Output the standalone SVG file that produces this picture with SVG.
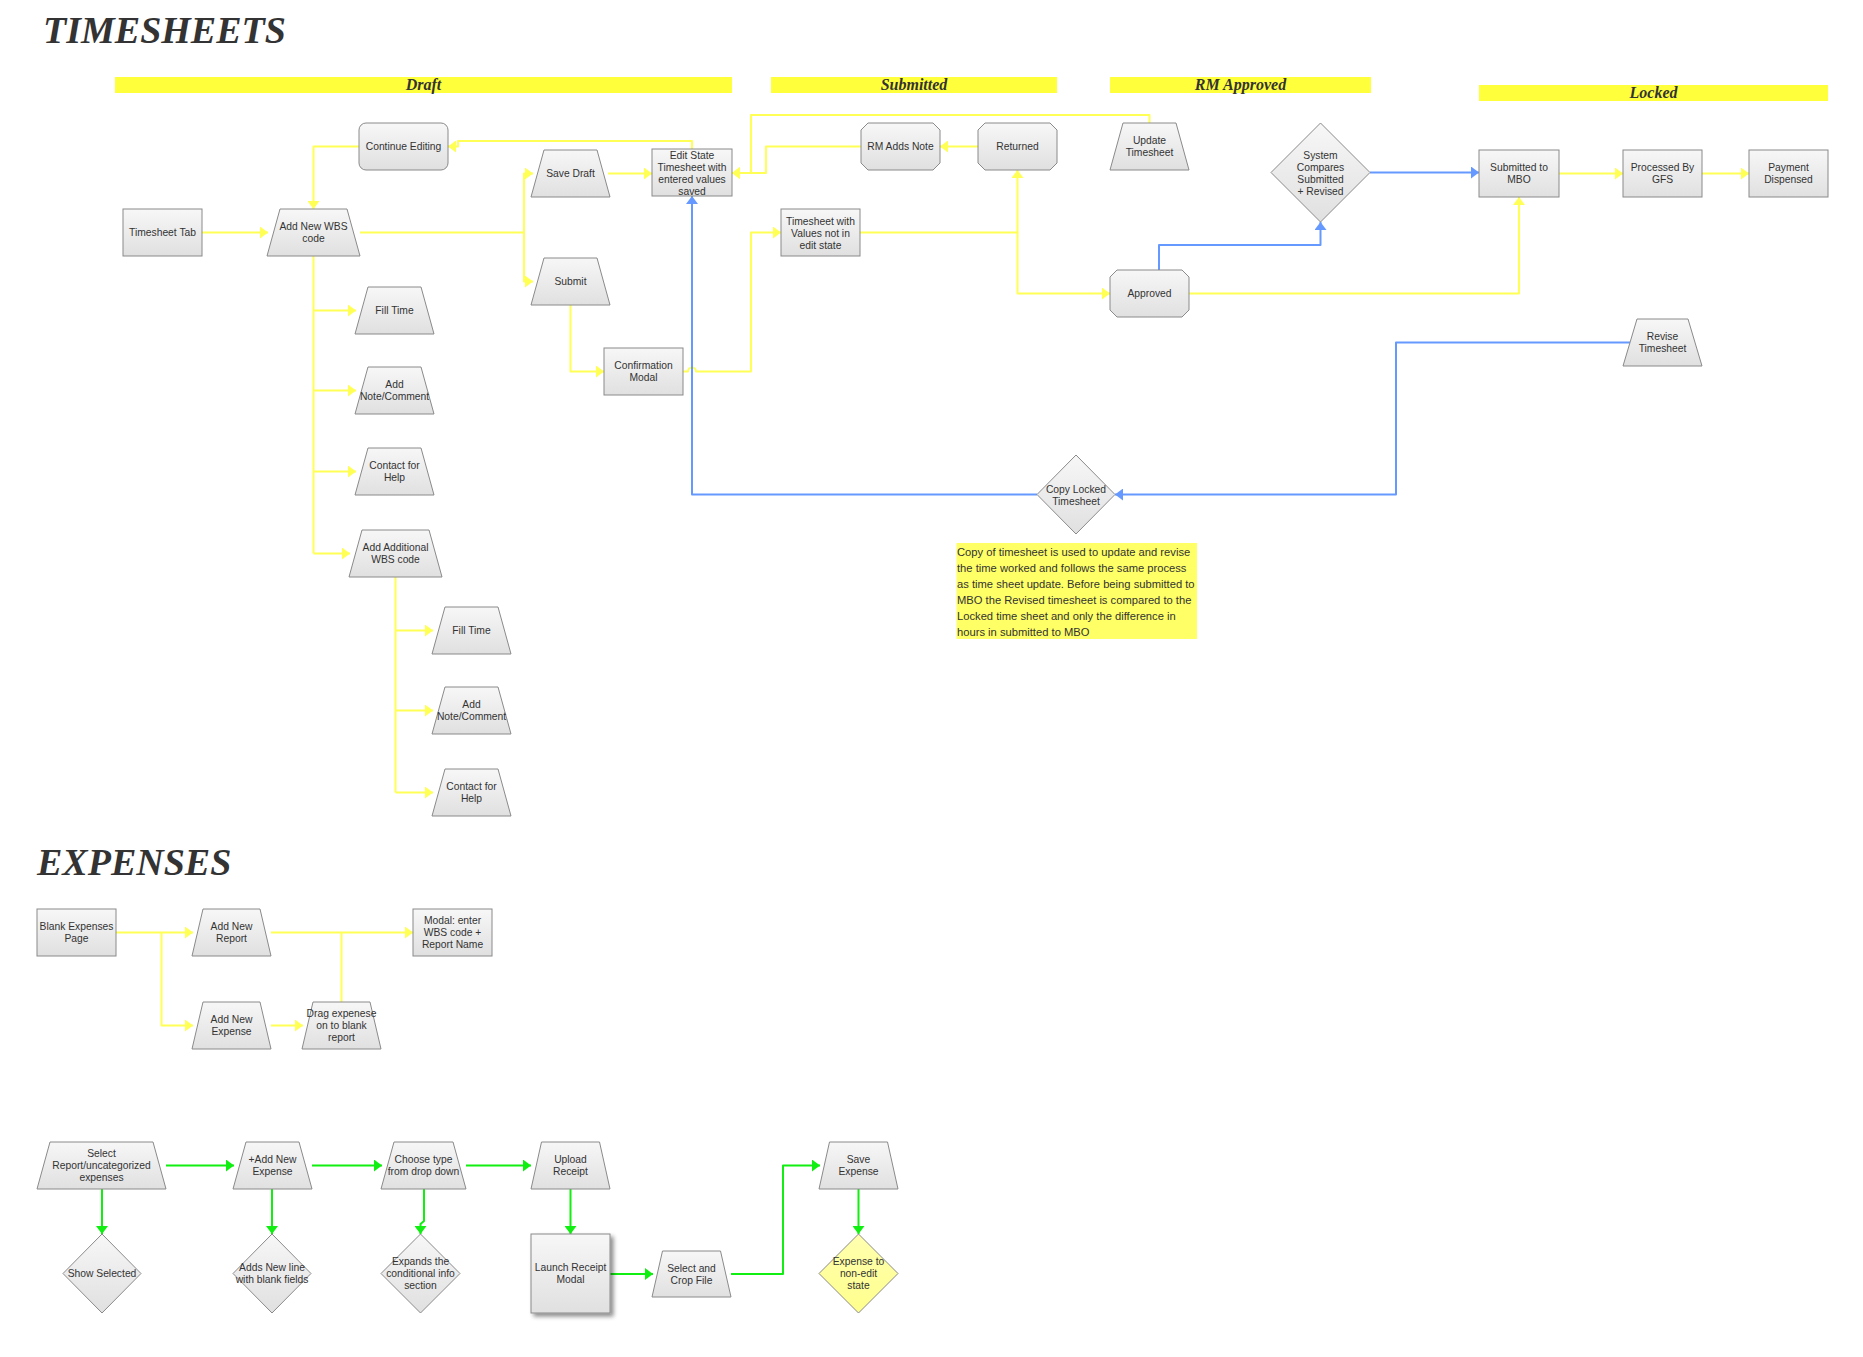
<svg xmlns="http://www.w3.org/2000/svg" width="1863" height="1357" viewBox="0 0 1863 1357">
<style>
.n{fill:url(#g);stroke:#8a8a8a;stroke-width:1}
.t{font-family:"Liberation Sans",Arial,sans-serif;font-size:10.3px;fill:#333;text-anchor:middle}
.h{font-family:"Liberation Serif","Times New Roman",serif;font-weight:bold;font-style:italic;fill:#333}
.bar{fill:#ffff3c}
.bl{font-family:"Liberation Serif","Times New Roman",serif;font-weight:bold;font-style:italic;font-size:16px;fill:#333;text-anchor:middle}
.cy{fill:none;stroke:#ffff55;stroke-width:2;stroke-linejoin:round;marker-end:url(#ay)}
.cy0{fill:none;stroke:#ffff55;stroke-width:2;stroke-linejoin:round}
.cb{fill:none;stroke:#6699ff;stroke-width:2;stroke-linejoin:round;marker-end:url(#ab)}
.cg{fill:none;stroke:#11ee11;stroke-width:2;stroke-linejoin:round;marker-end:url(#ag)}
.note{font-family:"Liberation Sans",Arial,sans-serif;font-size:11.2px;fill:#333}
</style>
<defs>
<linearGradient id="g" x1="0" y1="0" x2="0" y2="1"><stop offset="0" stop-color="#f7f7f7"/><stop offset="1" stop-color="#e0e0e0"/></linearGradient>
<linearGradient id="gy" x1="0" y1="0" x2="0" y2="1"><stop offset="0" stop-color="#ffffb0"/><stop offset="1" stop-color="#ffff8c"/></linearGradient>
<marker id="ay" viewBox="0 0 8 12" refX="8" refY="6" markerWidth="8" markerHeight="12" markerUnits="userSpaceOnUse" orient="auto"><path d="M0,0 L8,6 L0,12 Z" fill="#ffff55"/></marker>
<marker id="ab" viewBox="0 0 8 12" refX="8" refY="6" markerWidth="8" markerHeight="12" markerUnits="userSpaceOnUse" orient="auto"><path d="M0,0 L8,6 L0,12 Z" fill="#6699ff"/></marker>
<marker id="ag" viewBox="0 0 8 12" refX="8" refY="6" markerWidth="8" markerHeight="12" markerUnits="userSpaceOnUse" orient="auto"><path d="M0,0 L8,6 L0,12 Z" fill="#11ee11"/></marker>
<filter id="sh" x="-20%" y="-20%" width="150%" height="150%"><feDropShadow dx="3" dy="3" stdDeviation="2" flood-color="#000" flood-opacity="0.45"/></filter>
</defs>
<rect width="1863" height="1357" fill="#fff"/>

<text class="h" x="43" y="43" font-size="38">TIMESHEETS</text>
<text class="h" x="37" y="875" font-size="38">EXPENSES</text>

<g id="lanes">
<rect class="bar" x="115" y="77" width="617" height="16"/><text class="bl" x="423.5" y="89.5">Draft</text>
<rect class="bar" x="771" y="77" width="286" height="16"/><text class="bl" x="914" y="89.5">Submitted</text>
<rect class="bar" x="1110" y="77" width="261" height="16"/><text class="bl" x="1240.5" y="89.5">RM Approved</text>
<rect class="bar" x="1479" y="85" width="349" height="16"/><text class="bl" x="1653.5" y="97.5">Locked</text>
</g>

<g id="connectors">
<path class="cy" d="M202,232.5 H268"/>
<path class="cy" d="M360,232.5 H524 V173.5 H533"/>
<path class="cy" d="M524,232.5 V281.5 H533"/>
<path class="cy" d="M608,173.5 H652"/>
<path class="cy" d="M570.5,305 V371.5 H604"/>
<path class="cy" d="M683,371.5 H688 A4,4 0 0 1 696,371.5 H751 V232.5 H781"/>
<path class="cy" d="M692,149 V141 H458 V146.5 H448"/>
<path class="cy" d="M359,146.5 H313.5 V209"/>
<path class="cy0" d="M313.5,256 V553.5"/>
<path class="cy" d="M313.5,310.5 H356"/>
<path class="cy" d="M313.5,390.5 H356"/>
<path class="cy" d="M313.5,471.5 H356"/>
<path class="cy" d="M313.5,553.5 H350"/>
<path class="cy0" d="M395.5,577 V792.5"/>
<path class="cy" d="M395.5,630.5 H433"/>
<path class="cy" d="M395.5,710.5 H433"/>
<path class="cy" d="M395.5,792.5 H433"/>
<path class="cy" d="M978,146.5 H940"/>
<path class="cy" d="M861,146.5 H766 V173 H732"/>
<path class="cy" d="M1149.5,123 V115 H751 V173 H732"/>
<path class="cy" d="M860,232.5 H1017.5 V170"/>
<path class="cy" d="M1017.5,232.5 V293.5 H1110"/>
<path class="cy" d="M1189,293.5 H1519 V197"/>
<path class="cy" d="M1559,173.5 H1623"/>
<path class="cy" d="M1702,173.5 H1749"/>
<path class="cb" d="M1370,172.5 H1479"/>
<path class="cb" d="M1159,270 V245 H1320.5 V222"/>
<path class="cb" d="M1630,342.5 H1396 V494.5 H1115"/>
<path class="cb" d="M1037,494.5 H692 V196"/>
<path class="cy" d="M116,932.5 H193"/>
<path class="cy" d="M161.5,932.5 V1025.5 H193"/>
<path class="cy" d="M271,932.5 H413"/>
<path class="cy0" d="M341.5,1002 V932.5"/>
<path class="cy" d="M271,1025.5 H303"/>
<path class="cg" d="M166,1165.5 H234"/>
<path class="cg" d="M312,1165.5 H382"/>
<path class="cg" d="M466,1165.5 H531"/>
<path class="cg" d="M102,1189 V1234"/>
<path class="cg" d="M272,1189 V1234"/>
<path class="cg" d="M424,1189 V1221 L420.5,1224 V1234"/>
<path class="cg" d="M570.5,1189 V1234"/>
<path class="cg" d="M610,1274 H653"/>
<path class="cg" d="M731,1274 H783 V1165.5 H820"/>
<path class="cg" d="M858.5,1189 V1234"/>
</g>

<g id="timesheet-tab"><rect class="n" x="123" y="209" width="79" height="47"/><text class="t" x="162.5" y="236.2">Timesheet Tab</text></g>
<g id="add-new-wbs"><polygon class="n" points="280,209 347,209 360,256 267,256"/><text class="t" x="313.5" y="230.2">Add New WBS</text><text class="t" x="313.5" y="242.2">code</text></g>
<g id="continue-editing"><rect class="n" x="359" y="123" width="89" height="47" rx="7"/><text class="t" x="403.5" y="150.2">Continue Editing</text></g>
<g id="save-draft"><polygon class="n" points="544,150 597,150 610,197 531,197"/><text class="t" x="570.5" y="177.2">Save Draft</text></g>
<g id="submit"><polygon class="n" points="544,258 597,258 610,305 531,305"/><text class="t" x="570.5" y="285.2">Submit</text></g>
<g id="confirmation-modal"><rect class="n" x="604" y="348" width="79" height="47"/><text class="t" x="643.5" y="369.2">Confirmation</text><text class="t" x="643.5" y="381.2">Modal</text></g>
<g id="edit-state"><rect class="n" x="652" y="149" width="80" height="47"/><text class="t" x="692" y="159">Edit State</text><text class="t" x="692" y="171">Timesheet with</text><text class="t" x="692" y="183">entered values</text><text class="t" x="692" y="195">saved</text></g>
<g id="timesheet-values"><rect class="n" x="781" y="209" width="79" height="47"/><text class="t" x="820.5" y="225">Timesheet with</text><text class="t" x="820.5" y="237">Values not in</text><text class="t" x="820.5" y="249">edit state</text></g>
<g id="rm-adds-note"><polygon class="n" points="868,123 933,123 940,130 940,163 933,170 868,170 861,163 861,130"/><text class="t" x="900.5" y="150.2">RM Adds Note</text></g>
<g id="returned"><polygon class="n" points="985,123 1050,123 1057,130 1057,163 1050,170 985,170 978,163 978,130"/><text class="t" x="1017.5" y="150.2">Returned</text></g>
<g id="update-timesheet"><polygon class="n" points="1123,123 1176,123 1189,170 1110,170"/><text class="t" x="1149.5" y="144.2">Update</text><text class="t" x="1149.5" y="156.2">Timesheet</text></g>
<g id="approved"><polygon class="n" points="1117,270 1182,270 1189,277 1189,310 1182,317 1117,317 1110,310 1110,277"/><text class="t" x="1149.5" y="297.2">Approved</text></g>
<g id="system-compares"><polygon class="n" points="1320.5,123 1370,172.5 1320.5,222 1271,172.5"/><text class="t" x="1320.5" y="159">System</text><text class="t" x="1320.5" y="171">Compares</text><text class="t" x="1320.5" y="183">Submitted</text><text class="t" x="1320.5" y="195">+ Revised</text></g>
<g id="submitted-mbo"><rect class="n" x="1479" y="150" width="80" height="47"/><text class="t" x="1519" y="171.2">Submitted to</text><text class="t" x="1519" y="183.2">MBO</text></g>
<g id="processed-gfs"><rect class="n" x="1623" y="150" width="79" height="47"/><text class="t" x="1662.5" y="171.2">Processed By</text><text class="t" x="1662.5" y="183.2">GFS</text></g>
<g id="payment-dispensed"><rect class="n" x="1749" y="150" width="79" height="47"/><text class="t" x="1788.5" y="171.2">Payment</text><text class="t" x="1788.5" y="183.2">Dispensed</text></g>
<g id="revise-timesheet"><polygon class="n" points="1637,319 1688,319 1702,366 1623,366"/><text class="t" x="1662.5" y="340.2">Revise</text><text class="t" x="1662.5" y="352.2">Timesheet</text></g>
<g id="copy-locked"><polygon class="n" points="1076,455 1115,494.5 1076,534 1037,494.5"/><text class="t" x="1076" y="493">Copy Locked</text><text class="t" x="1076" y="505">Timesheet</text></g>
<g id="note">
<rect x="956.5" y="543" width="240.5" height="96" fill="#ffff66"/>
<text class="note" x="957" y="555.5">Copy of timesheet is used to update and revise</text>
<text class="note" x="957" y="571.5">the time worked and follows the same process</text>
<text class="note" x="957" y="587.5">as time sheet update. Before being submitted to</text>
<text class="note" x="957" y="603.5">MBO the Revised timesheet is compared to the</text>
<text class="note" x="957" y="619.5">Locked time sheet and only the difference in</text>
<text class="note" x="957" y="635.5">hours in submitted to MBO</text>
</g>
<g id="fill-time-1"><polygon class="n" points="368,287 421,287 434,334 355,334"/><text class="t" x="394.5" y="314.2">Fill Time</text></g>
<g id="add-note-1"><polygon class="n" points="368,367 421,367 434,414 355,414"/><text class="t" x="394.5" y="388.2">Add</text><text class="t" x="394.5" y="400.2">Note/Comment</text></g>
<g id="contact-help-1"><polygon class="n" points="368,448 421,448 434,495 355,495"/><text class="t" x="394.5" y="469.2">Contact for</text><text class="t" x="394.5" y="481.2">Help</text></g>
<g id="add-additional-wbs"><polygon class="n" points="362,530 429,530 442,577 349,577"/><text class="t" x="395.5" y="551.2">Add Additional</text><text class="t" x="395.5" y="563.2">WBS code</text></g>
<g id="fill-time-2"><polygon class="n" points="445,607 498,607 511,654 432,654"/><text class="t" x="471.5" y="634.2">Fill Time</text></g>
<g id="add-note-2"><polygon class="n" points="445,687 498,687 511,734 432,734"/><text class="t" x="471.5" y="708.2">Add</text><text class="t" x="471.5" y="720.2">Note/Comment</text></g>
<g id="contact-help-2"><polygon class="n" points="445,769 498,769 511,816 432,816"/><text class="t" x="471.5" y="790.2">Contact for</text><text class="t" x="471.5" y="802.2">Help</text></g>

<g id="blank-expenses"><rect class="n" x="37" y="909" width="79" height="47"/><text class="t" x="76.5" y="930.2">Blank Expenses</text><text class="t" x="76.5" y="942.2">Page</text></g>
<g id="add-new-report"><polygon class="n" points="203,909 260,909 271,956 192,956"/><text class="t" x="231.5" y="930.2">Add New</text><text class="t" x="231.5" y="942.2">Report</text></g>
<g id="modal-wbs"><rect class="n" x="413" y="909" width="79" height="47"/><text class="t" x="452.5" y="924.2">Modal: enter</text><text class="t" x="452.5" y="936.2">WBS code +</text><text class="t" x="452.5" y="948.2">Report Name</text></g>
<g id="add-new-expense"><polygon class="n" points="203,1002 260,1002 271,1049 192,1049"/><text class="t" x="231.5" y="1023.2">Add New</text><text class="t" x="231.5" y="1035.2">Expense</text></g>
<g id="drag-expense"><polygon class="n" points="313,1002 370,1002 381,1049 302,1049"/><text class="t" x="341.5" y="1017.2">Drag expenese</text><text class="t" x="341.5" y="1029.2">on to blank</text><text class="t" x="341.5" y="1041.2">report</text></g>
<g id="select-report"><polygon class="n" points="50,1142 153,1142 166,1189 37,1189"/><text class="t" x="101.5" y="1157.2">Select</text><text class="t" x="101.5" y="1169.2">Report/uncategorized</text><text class="t" x="101.5" y="1181.2">expenses</text></g>
<g id="show-selected"><polygon class="n" points="102,1234 141,1273.5 102,1313 63,1273.5"/><text class="t" x="102" y="1277.2">Show Selected</text></g>
<g id="plus-add-new-expense"><polygon class="n" points="246,1142 299,1142 312,1189 233,1189"/><text class="t" x="272.5" y="1163.2">+Add New</text><text class="t" x="272.5" y="1175.2">Expense</text></g>
<g id="adds-new-line"><polygon class="n" points="272,1234 311,1273.5 272,1313 233,1273.5"/><text class="t" x="272" y="1271.2">Adds New line</text><text class="t" x="272" y="1283.2">with blank fields</text></g>
<g id="choose-type"><polygon class="n" points="394,1142 453,1142 466,1189 381,1189"/><text class="t" x="423.5" y="1163.2">Choose type</text><text class="t" x="423.5" y="1175.2">from drop down</text></g>
<g id="expands"><polygon class="n" points="420.5,1234 460,1273.5 420.5,1313 381,1273.5"/><text class="t" x="420.5" y="1265.2">Expands the</text><text class="t" x="420.5" y="1277.2">conditional info</text><text class="t" x="420.5" y="1289.2">section</text></g>
<g id="upload-receipt"><polygon class="n" points="541.5,1142 599.5,1142 610,1189 531,1189"/><text class="t" x="570.5" y="1163.2">Upload</text><text class="t" x="570.5" y="1175.2">Receipt</text></g>
<g id="launch-receipt"><rect class="n" x="531" y="1234" width="79" height="79" filter="url(#sh)"/><text class="t" x="570.5" y="1271.2">Launch Receipt</text><text class="t" x="570.5" y="1283.2">Modal</text></g>
<g id="select-crop"><polygon class="n" points="662.5,1251 720.5,1251 731,1297 652,1297"/><text class="t" x="691.5" y="1271.7">Select and</text><text class="t" x="691.5" y="1283.7">Crop File</text></g>
<g id="save-expense"><polygon class="n" points="829.5,1142 887.5,1142 898,1189 819,1189"/><text class="t" x="858.5" y="1163.2">Save</text><text class="t" x="858.5" y="1175.2">Expense</text></g>
<g id="non-edit"><polygon points="858.5,1234 898,1273.5 858.5,1313 819,1273.5" fill="url(#gy)" stroke="#8a8a8a" stroke-width="1"/><text class="t" x="858.5" y="1265.2">Expense to</text><text class="t" x="858.5" y="1277.2">non-edit</text><text class="t" x="858.5" y="1289.2">state</text></g>
</svg>
